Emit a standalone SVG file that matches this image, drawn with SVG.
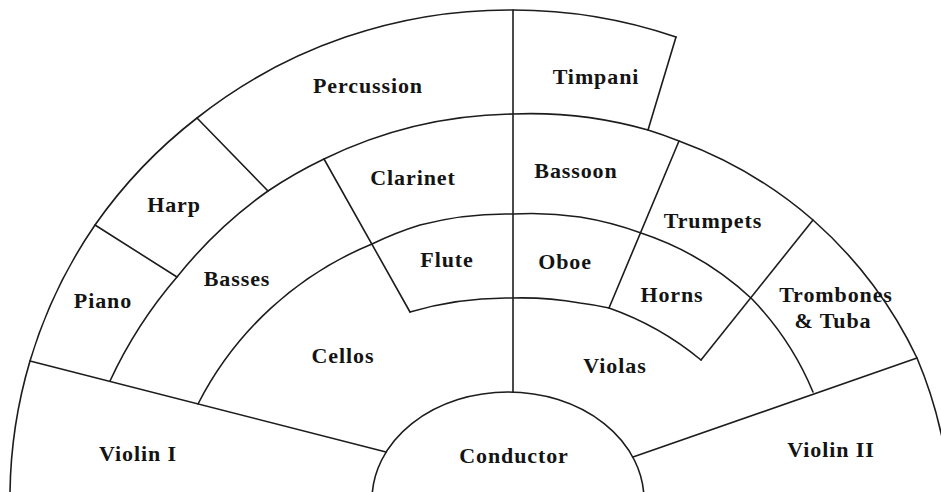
<svg xmlns="http://www.w3.org/2000/svg" width="941" height="492" viewBox="0 0 941 492">
<style>
.ln{fill:none;stroke:#1c1c1c;stroke-width:1.6;stroke-linejoin:round;stroke-linecap:round}
.lb{font-family:"Liberation Serif","Times New Roman",serif;font-weight:bold;font-size:22px;letter-spacing:0.9px;fill:#141414;text-anchor:middle}
</style>
<rect width="941" height="492" fill="#ffffff"/>
<g id="connectors">
<path class="ln" d="M10,492 A498,490 0 0 1 30,361 A498,490 0 0 1 95,225 A498,490 0 0 1 197,118 A498,490 0 0 1 513,10 A498,490 0 0 1 676,37"/>
<path class="ln" d="M110,381 A447,447 0 0 1 177,277 A447,447 0 0 1 268,191 A447,447 0 0 1 324,159 A447,447 0 0 1 513,114 A430,430 0 0 1 648,130 A430,430 0 0 1 679,141 A430,430 0 0 1 813,220 A430,430 0 0 1 873,285 A430,430 0 0 1 917,358 A430,430 0 0 1 941,433 A430,430 0 0 1 950,480"/>
<path class="ln" d="M198,404 A340,340 0 0 1 372,244 A340,340 0 0 1 420,225 A340,340 0 0 1 513,214 A330,330 0 0 1 580,217 A330,330 0 0 1 641,233 A300,300 0 0 1 752,299 A300,300 0 0 1 813,392"/>
<path class="ln" d="M410,312 A335,335 0 0 1 513,298 A335,335 0 0 1 580,303 A300,300 0 0 1 609,308 A300,300 0 0 1 701,360"/>
<path class="ln" d="M513,10 L513,392"/>
<path class="ln" d="M676,37 L648,130"/>
<path class="ln" d="M197,118 L268,191"/>
<path class="ln" d="M95,225 L177,277"/>
<path class="ln" d="M324,159 L410,312"/>
<path class="ln" d="M679,141 L609,308"/>
<path class="ln" d="M813,220 L701,360"/>
<path class="ln" d="M30,361 L386,452"/>
<path class="ln" d="M633,457 L917,358"/>
</g>
<g id="percussion"><text class="lb" x="368" y="93">Percussion</text></g>
<g id="timpani"><text class="lb" x="596" y="84">Timpani</text></g>
<g id="harp"><text class="lb" x="174" y="212">Harp</text></g>
<g id="piano"><text class="lb" x="103" y="308">Piano</text></g>
<g id="clarinet"><text class="lb" x="413" y="185">Clarinet</text></g>
<g id="bassoon"><text class="lb" x="576" y="178">Bassoon</text></g>
<g id="trumpets"><text class="lb" x="713" y="228">Trumpets</text></g>
<g id="basses"><text class="lb" x="237" y="286">Basses</text></g>
<g id="flute"><text class="lb" x="447" y="267">Flute</text></g>
<g id="oboe"><text class="lb" x="565" y="269">Oboe</text></g>
<g id="horns"><text class="lb" x="672" y="302">Horns</text></g>
<g id="trombones-tuba"><text class="lb" x="836" y="302">Trombones</text><text class="lb" x="833" y="328">&amp; Tuba</text></g>
<g id="cellos"><text class="lb" x="343" y="363">Cellos</text></g>
<g id="violas"><text class="lb" x="615" y="373">Violas</text></g>
<g id="violin-1"><text class="lb" x="138" y="461">Violin I</text></g>
<g id="violin-2"><text class="lb" x="831" y="457">Violin II</text></g>
<g id="conductor"><ellipse class="ln" cx="508" cy="500" rx="136" ry="108"/><text class="lb" x="514" y="463">Conductor</text></g>
</svg>
